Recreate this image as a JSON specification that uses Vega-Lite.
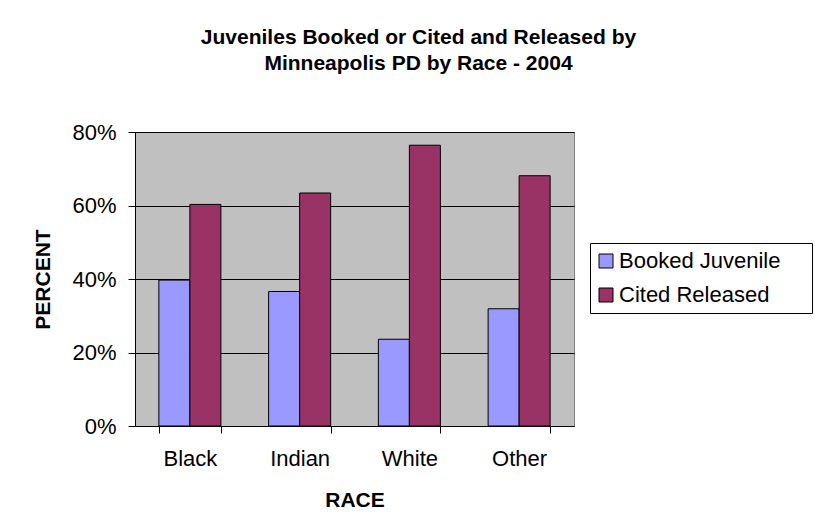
{
  "$schema": "https://vega.github.io/schema/vega-lite/v6.json",
  "autosize": {"type": "none"},
  "width": 439,
  "height": 294,
  "padding": {"left": 135, "top": 132, "right": 241, "bottom": 105},
  "background": "white",
  "title": {
    "text": ["Juveniles Booked or Cited and Released by", "Minneapolis PD by Race - 2004"],
    "font": "Liberation Sans",
    "fontSize": 21,
    "fontWeight": "bold",
    "color": "black",
    "lineHeight": 26.5,
    "anchor": "middle",
    "frame": "group",
    "dx": 64,
    "offset": 47
  },
  "data": {
    "values": [
      {"race": "Black", "series": "Booked Juvenile", "pct": 0.397},
      {"race": "Black", "series": "Cited Released", "pct": 0.603},
      {"race": "Indian", "series": "Booked Juvenile", "pct": 0.366},
      {"race": "Indian", "series": "Cited Released", "pct": 0.634},
      {"race": "White", "series": "Booked Juvenile", "pct": 0.236},
      {"race": "White", "series": "Cited Released", "pct": 0.764},
      {"race": "Other", "series": "Booked Juvenile", "pct": 0.319},
      {"race": "Other", "series": "Cited Released", "pct": 0.681}
    ]
  },
  "mark": {"type": "bar", "stroke": "black", "strokeWidth": 1, "opacity": 1},
  "encoding": {
    "x": {
      "field": "race",
      "type": "nominal",
      "sort": ["Black", "Indian", "White", "Other"],
      "scale": {"paddingInner": 0.435, "paddingOuter": 0.2175},
      "axis": {
        "title": "RACE",
        "labelAngle": 0,
        "tickBand": "extent",
        "tickSize": 7,
        "tickColor": "black",
        "domainColor": "black",
        "labelPadding": 15,
        "labelFont": "Liberation Sans",
        "labelFontSize": 22,
        "labelColor": "black",
        "titleFont": "Liberation Sans",
        "titleFontSize": 21,
        "titleFontWeight": "bold",
        "titleColor": "black",
        "titlePadding": 20,
        "grid": false
      }
    },
    "xOffset": {"field": "series", "type": "nominal", "scale": {"paddingInner": 0, "paddingOuter": 0}},
    "y": {
      "field": "pct",
      "type": "quantitative",
      "scale": {"domain": [0, 0.8], "nice": false},
      "axis": {
        "title": "PERCENT",
        "values": [0, 0.2, 0.4, 0.6, 0.8],
        "format": ".0%",
        "tickSize": 7,
        "tickColor": "black",
        "domainColor": "black",
        "gridColor": "black",
        "gridOpacity": 1,
        "grid": true,
        "labelPadding": 12,
        "labelFont": "Liberation Sans",
        "labelFontSize": 22,
        "labelColor": "black",
        "titleFont": "Liberation Sans",
        "titleFontSize": 21,
        "titleFontWeight": "bold",
        "titleColor": "black",
        "titlePadding": 18
      }
    },
    "color": {
      "field": "series",
      "type": "nominal",
      "scale": {"domain": ["Booked Juvenile", "Cited Released"], "range": ["#9999FF", "#993366"]},
      "legend": {
        "title": null,
        "orient": "none",
        "legendX": 455,
        "legendY": 111,
        "strokeColor": "black",
        "fillColor": "white",
        "padding": 7,
        "symbolType": "square",
        "symbolSize": 196,
        "symbolOffset": -2,
        "symbolStrokeColor": "black",
        "symbolStrokeWidth": 1,
        "symbolOpacity": 1,
        "labelFont": "Liberation Sans",
        "labelFontSize": 22,
        "labelColor": "black",
        "labelOffset": 2,
        "rowPadding": 12,
        "labelExpr": "datum.label + '    \u200b'",
        "labelLimit": 400
      }
    }
  },
  "config": {
    "view": {"fill": "#C0C0C0", "stroke": "#808080", "strokeWidth": 1},
    "axis": {"domainWidth": 1, "tickWidth": 1, "gridWidth": 1}
  }
}
